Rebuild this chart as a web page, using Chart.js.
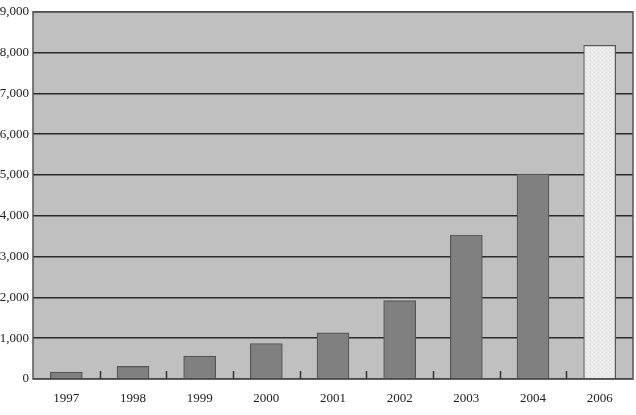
<!DOCTYPE html>
<html>
<head>
<meta charset="utf-8">
<script src="https://cdn.jsdelivr.net/npm/chart.js@4/dist/chart.umd.min.js"></script>
<style>
  html, body { margin: 0; padding: 0; background: #fff; }
  #wrap { width: 636px; height: 415px; position: relative; }
</style>
</head>
<body>
<div id="wrap"><canvas id="growthChart"></canvas></div>
<script>
const years = ['1997', '1998', '1999', '2000', '2001', '2002', '2003', '2004', '2006'];
const values = [170, 310, 560, 870, 1130, 1920, 3530, 5020, 8180];
const yTicks = [0, 1000, 2000, 3000, 4000, 5000, 6000, 7000, 8000, 9000];

function makeStipple() {
    const c = document.createElement('canvas');
    c.width = 4; c.height = 4;
    const g = c.getContext('2d');
    g.fillStyle = '#e9e9e9';
    g.fillRect(0, 0, 4, 4);
    g.fillStyle = '#f2f2f2';
    g.fillRect(0, 0, 1, 1);
    g.fillRect(2, 2, 1, 1);
    g.fillStyle = '#e0e0e0';
    g.fillRect(2, 0, 1, 1);
    return g.createPattern(c, 'repeat');
}

// gray plot background + frame + little tick marks inside the bottom edge
const plotFrame = {
    id: 'plotFrame',
    beforeDraw(chart) {
        const { ctx, chartArea: a } = chart;
        ctx.save();
        ctx.fillStyle = '#c0c0c0';
        ctx.fillRect(a.left, a.top, a.right - a.left, a.bottom - a.top);
        ctx.restore();
    },
    afterDatasetsDraw(chart) {
        const { ctx, chartArea: a, scales } = chart;
        ctx.save();
        ctx.strokeStyle = '#555';
        ctx.lineWidth = 1.5;
        ctx.strokeRect(a.left, a.top, a.right - a.left, a.bottom - a.top);
        ctx.strokeStyle = '#333';
        for (let i = 1; i < years.length; i++) {
            const x = Math.round(scales.x.getPixelForValue(i - 0.5)) + 0.5;
            ctx.beginPath();
            ctx.moveTo(x, a.bottom);
            ctx.lineTo(x, a.bottom - 8);
            ctx.stroke();
        }
        ctx.restore();
    }
};

const ctx = document.getElementById('growthChart').getContext('2d');
const stipple = makeStipple();
const serif = "'Liberation Serif', 'Times New Roman', serif";

new Chart(ctx, {
    type: 'bar',
    data: {
        labels: years,
        datasets: [{
            data: values,
            backgroundColor: values.map((v, i) => i === values.length - 1 ? stipple : '#808080'),
            borderColor: '#555',
            borderWidth: 1.2,
            borderSkipped: 'bottom',
            barThickness: 32
        }]
    },
    options: {
        responsive: true,
        maintainAspectRatio: false,
        animation: false,
        layout: { padding: { top: 10, right: 3, left: 0, bottom: 0 } },
        plugins: {
            legend: { display: false },
            tooltip: { enabled: false }
        },
        scales: {
            x: {
                afterFit(scale) { scale.height = 36; },
                grid: { display: false, drawTicks: false },
                border: { display: false },
                ticks: {
                    color: '#222',
                    padding: 12,
                    maxRotation: 0,
                    font: { family: serif, size: 13 }
                }
            },
            y: {
                min: 0,
                max: 9000,
                afterFit(scale) { scale.width = 33; },
                afterBuildTicks(scale) {
                    scale.ticks = yTicks.map(v => ({ value: v }));
                },
                grid: { color: '#2a2a2a', lineWidth: 1.5, drawTicks: false },
                border: { display: false },
                ticks: {
                    color: '#222',
                    padding: 4,
                    callback: v => v.toLocaleString('en-US'),
                    font: { family: serif, size: 13 }
                }
            }
        }
    },
    plugins: [plotFrame]
});
</script>
</body>
</html>
